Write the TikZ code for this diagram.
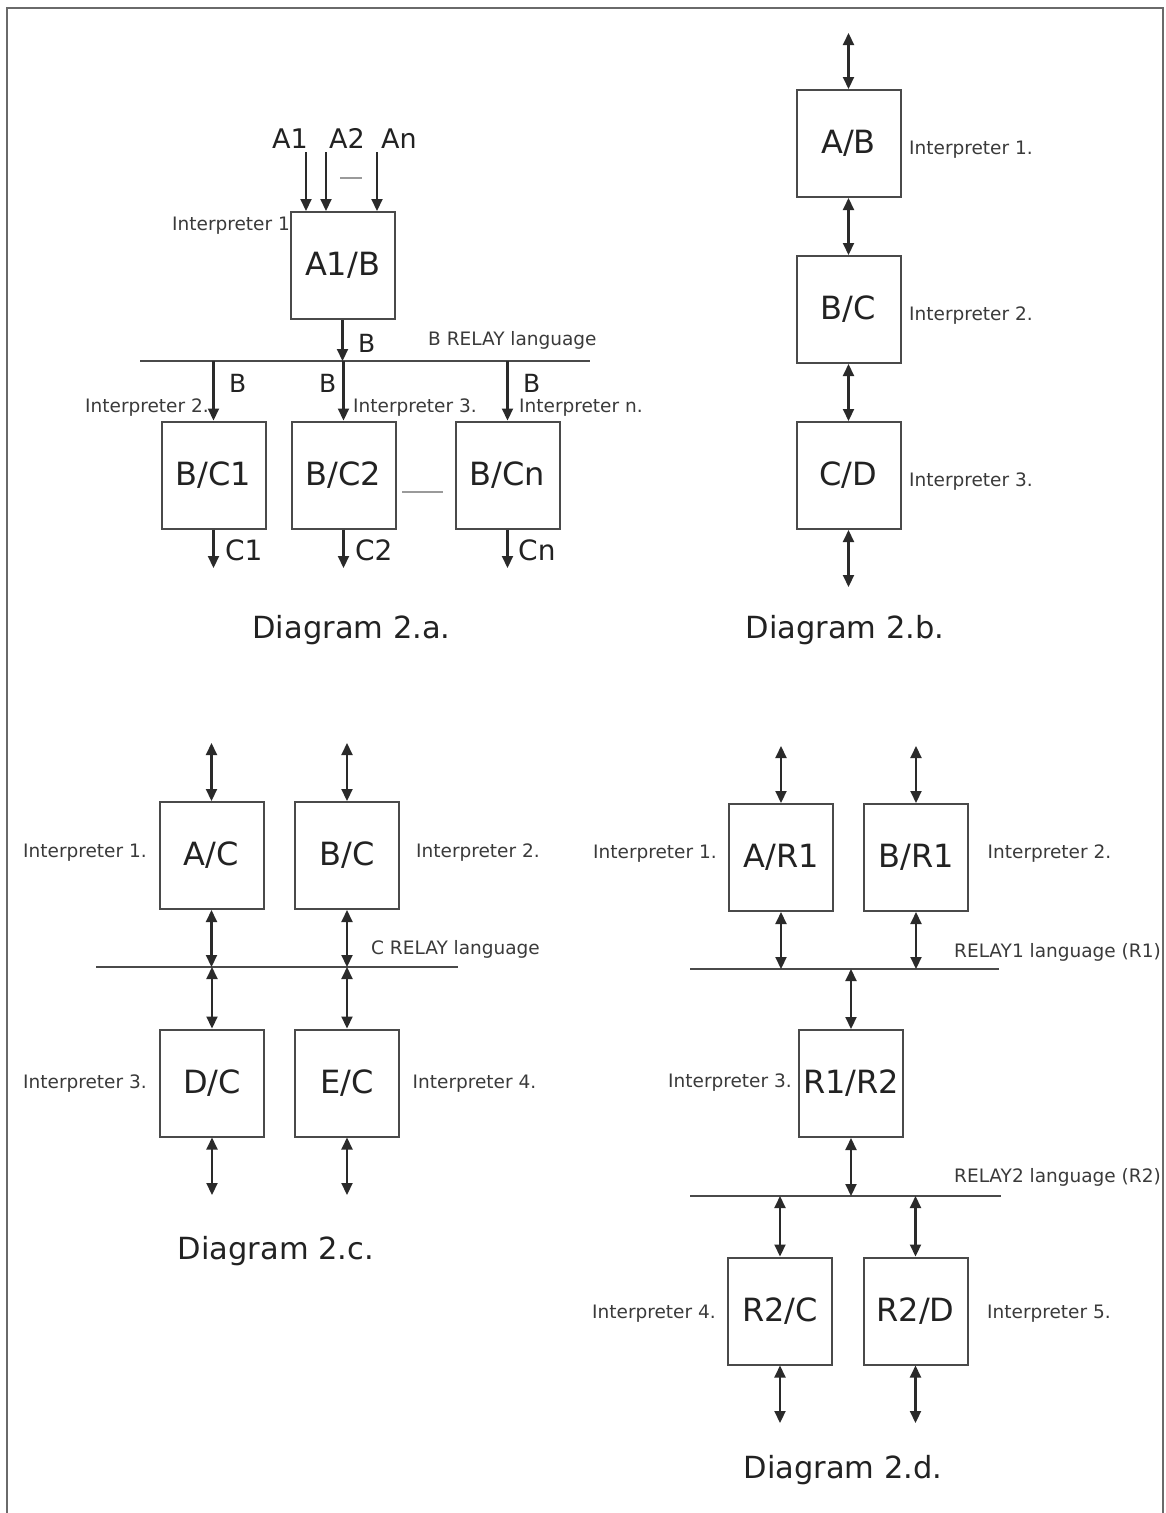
\documentclass[tikz,border=0pt]{standalone}
\usepackage{fontspec}
\setmainfont{DejaVu Sans}
\usetikzlibrary{arrows.meta}
\definecolor{linec}{HTML}{2A2A2A}
\definecolor{boxc}{HTML}{4A4A4A}
\definecolor{txtc}{HTML}{222222}
\definecolor{lblc}{HTML}{3A3A3A}
\definecolor{framec}{HTML}{6A6A6A}
\definecolor{dashc}{HTML}{9A9A9A}
\begin{document}
\begin{tikzpicture}[x=1pt,y=-1pt,
  box/.style={draw=boxc,line width=2pt,minimum width=104pt,minimum height=107pt,inner sep=0pt,text=txtc,font=\fontsize{32}{32}\selectfont},
  lbl/.style={inner sep=0pt,text=lblc,font=\fontsize{18.5}{20}\selectfont,anchor=base west},
  biglbl/.style={inner sep=0pt,text=txtc,font=\fontsize{27}{28}\selectfont,anchor=base},
  blbl/.style={inner sep=0pt,text=txtc,font=\fontsize{25}{26}\selectfont,anchor=base west},
  clbl/.style={inner sep=0pt,text=txtc,font=\fontsize{28}{29}\selectfont,anchor=base west},
  captxt/.style={inner sep=0pt,text=txtc,font=\fontsize{30.5}{32}\selectfont,anchor=base},
  arr/.style={draw=linec,line width=2.1pt,-{Triangle[length=12pt,width=11pt]}},
  darr/.style={draw=linec,line width=2.1pt,{Triangle[length=12pt,width=11pt]}-{Triangle[length=12pt,width=11pt]}},
  bus/.style={draw=linec!85,line width=2pt},
  dsh/.style={draw=dashc,line width=1.3pt}
]
\useasboundingbox (0,0) rectangle (1165,1513);
\fill[white] (0,0) rectangle (1165,1513);
\draw[framec,line width=2.2pt] (7,1513) -- (7,8) -- (1163,8) -- (1163,1513);

% ---------------- Diagram 2.a ----------------
\node[biglbl] (la1) at (290,148) {A1};
\node[biglbl] (la2) at (347,148) {A2};
\node[biglbl] (lan) at (399,148) {An};
\node[box] (a1b) at (342.5,265.5) {A1/B};
\coordinate (in1) at (306,152);
\coordinate (in2) at (326,152);
\coordinate (inn) at (377,152);
\draw[arr] (in1) -- (in1 |- a1b.north);
\draw[arr] (in2) -- (in2 |- a1b.north);
\draw[arr] (inn) -- (inn |- a1b.north);
\coordinate (d1l) at (340,178);
\coordinate (d1r) at (362,178);
\draw[dsh] (d1l) -- (d1r);
\node[lbl] (i1a) at (172,230) {Interpreter 1};

\coordinate (busAl) at (140,361);
\coordinate (busAr) at (590,361);
\draw[bus] (busAl) -- (busAr);
\draw[arr] (a1b.south) -- (a1b.south |- busAl);
\node[blbl] (b0) at (358,352) {B};
\node[lbl] (brl) at (428,345) {B RELAY language};

\node[box] (bc1) at (213.5,475) {B/C1};
\node[box] (bc2) at (343.5,475) {B/C2};
\node[box] (bcn) at (507.5,475) {B/Cn};
\draw[arr] (bc1.north |- busAl) -- (bc1.north);
\draw[arr] (bc2.north |- busAl) -- (bc2.north);
\draw[arr] (bcn.north |- busAl) -- (bcn.north);
\node[blbl] (b1) at (229,392) {B};
\node[blbl] (b2) at (319,392) {B};
\node[blbl] (bn) at (523,392) {B};
\node[lbl] (i2a) at (85,412) {Interpreter 2.};
\node[lbl] (i3a) at (353,412) {Interpreter 3.};
\node[lbl] (ina) at (519,412) {Interpreter n.};
\coordinate (d2l) at (402,492);
\coordinate (d2r) at (443,492);
\draw[dsh] (d2l) -- (d2r);
\coordinate (o1) at (213.5,568);
\coordinate (o2) at (343.5,568);
\coordinate (on) at (507.5,568);
\draw[arr] (bc1.south) -- (o1);
\draw[arr] (bc2.south) -- (o2);
\draw[arr] (bcn.south) -- (on);
\node[clbl] (c1) at (225,560) {C1};
\node[clbl] (c2) at (355,560) {C2};
\node[clbl] (cn) at (518,560) {Cn};
\node[captxt] (capa) at (351.5,638) {Diagram 2.a.};

% ---------------- Diagram 2.b ----------------
\node[box] (ab) at (848.5,143.5) {A/B};
\node[box] (bc) at (848.5,309.5) {B/C};
\node[box] (cd) at (848.5,475.5) {C/D};
\coordinate (bt) at (848.5,33);
\coordinate (bb) at (848.5,587);
\draw[darr] (bt) -- (ab.north);
\draw[darr] (ab.south) -- (bc.north);
\draw[darr] (bc.south) -- (cd.north);
\draw[darr] (cd.south) -- (bb);
\node[lbl] (i1b) at (909,154) {Interpreter 1.};
\node[lbl] (i2b) at (909,320) {Interpreter 2.};
\node[lbl] (i3b) at (909,486) {Interpreter 3.};
\node[captxt] (capb) at (845,638) {Diagram 2.b.};

% ---------------- Diagram 2.c ----------------
\node[box] (ac) at (211.5,855.5) {A/C};
\node[box] (bcc) at (347,855.5) {B/C};
\node[box] (dc) at (212,1083) {D/C};
\node[box] (ec) at (347,1083) {E/C};
\coordinate (busCl) at (96,967);
\coordinate (busCr) at (458,967);
\draw[bus] (busCl) -- (busCr);
\coordinate (ct1) at (211.5,743);
\coordinate (ct2) at (347,743);
\coordinate (cb1) at (212,1195);
\coordinate (cb2) at (347,1195);
\draw[darr] (ct1) -- (ac.north);
\draw[darr] (ct2) -- (bcc.north);
\draw[darr] (ac.south) -- (ac.south |- busCl);
\draw[darr] (bcc.south) -- (bcc.south |- busCl);
\draw[darr] (dc.north |- busCl) -- (dc.north);
\draw[darr] (ec.north |- busCl) -- (ec.north);
\draw[darr] (dc.south) -- (cb1);
\draw[darr] (ec.south) -- (cb2);
\node[lbl] (i1c) at (23,857.5) {Interpreter 1.};
\node[lbl] (i2c) at (416,857.5) {Interpreter 2.};
\node[lbl] (crl) at (371,954) {C RELAY language};
\node[lbl] (i3c) at (23,1088) {Interpreter 3.};
\node[lbl] (i4c) at (412.5,1088) {Interpreter 4.};
\node[captxt] (capc) at (276,1259) {Diagram 2.c.};

% ---------------- Diagram 2.d ----------------
\node[box] (ar1) at (781,857.5) {A/R1};
\node[box] (br1) at (916,857.5) {B/R1};
\node[box] (r1r2) at (851,1083.5) {R1/R2};
\node[box] (r2c) at (780,1311) {R2/C};
\node[box] (r2d) at (915.5,1311) {R2/D};
\coordinate (bus1l) at (690,969);
\coordinate (bus1r) at (999,969);
\coordinate (bus2l) at (690,1196);
\coordinate (bus2r) at (1001,1196);
\draw[bus] (bus1l) -- (bus1r);
\draw[bus] (bus2l) -- (bus2r);
\coordinate (dt1) at (781,746);
\coordinate (dt2) at (916,746);
\coordinate (db1) at (780,1423);
\coordinate (db2) at (915.5,1423);
\draw[darr] (dt1) -- (ar1.north);
\draw[darr] (dt2) -- (br1.north);
\draw[darr] (ar1.south) -- (ar1.south |- bus1l);
\draw[darr] (br1.south) -- (br1.south |- bus1l);
\draw[darr] (r1r2.north |- bus1l) -- (r1r2.north);
\draw[darr] (r1r2.south) -- (r1r2.south |- bus2l);
\draw[darr] (r2c.north |- bus2l) -- (r2c.north);
\draw[darr] (r2d.north |- bus2l) -- (r2d.north);
\draw[darr] (r2c.south) -- (db1);
\draw[darr] (r2d.south) -- (db2);
\node[lbl] (i1d) at (593,858) {Interpreter 1.};
\node[lbl] (i2d) at (987.5,858) {Interpreter 2.};
\node[lbl] (r1l) at (954,957) {RELAY1 language (R1)};
\node[lbl] (i3d) at (668,1087) {Interpreter 3.};
\node[lbl] (r2l) at (954,1182) {RELAY2 language (R2)};
\node[lbl] (i4d) at (592,1318) {Interpreter 4.};
\node[lbl] (i5d) at (987,1318) {Interpreter 5.};
\node[captxt] (capd) at (843,1478) {Diagram 2.d.};
\end{tikzpicture}
\end{document}
